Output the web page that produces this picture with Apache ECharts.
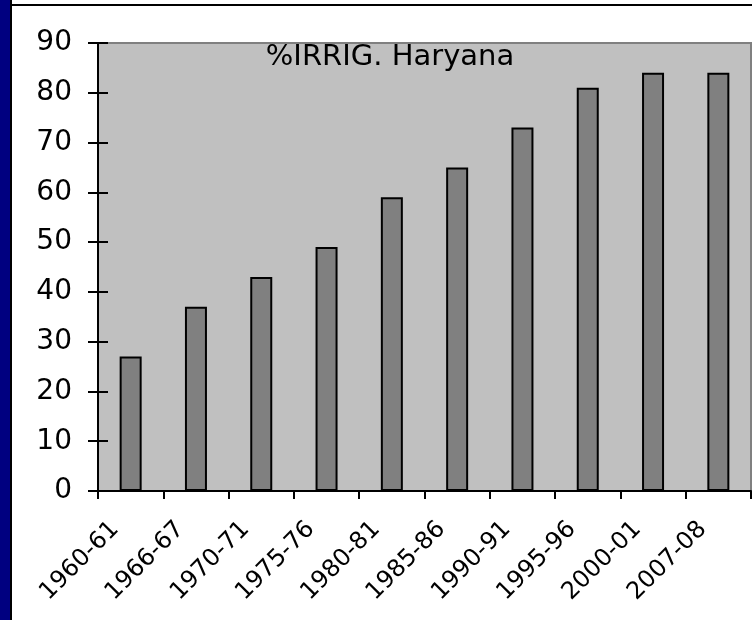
<!DOCTYPE html>
<html>
<head>
<meta charset="utf-8">
<script src="https://cdn.jsdelivr.net/npm/echarts@6/dist/echarts.min.js"></script>
<style>
  html, body { margin: 0; padding: 0; background: #ffffff; }
  #chart { width: 752px; height: 620px; }
</style>
</head>
<body>
<div id="chart"></div>
<script>
// Irrigated area share, Haryana (percent)
const periods = ['1960-61', '1966-67', '1970-71', '1975-76', '1980-81',
                 '1985-86', '1990-91', '1995-96', '2000-01', '2007-08'];
const irrigatedPct = [27, 37, 43, 49, 59, 65, 73, 81, 84, 84];
const yTicks = { min: 0, max: 90, step: 10 };
const chartTitle = '%IRRIG. Haryana';

const FONT = '"DejaVu Sans", Verdana, sans-serif';
const chart = echarts.init(document.getElementById('chart'), null, { renderer: 'canvas' });

chart.setOption({
  animation: false,
  backgroundColor: '#ffffff',
  title: {
    text: chartTitle,
    left: 385,
    textAlign: 'center',
    top: 38,
    textStyle: { fontFamily: FONT, fontSize: 29, fontWeight: 'normal', color: '#000' }
  },
  graphic: [
    { type: 'rect', shape: { x: 0, y: 0, width: 10, height: 620 }, style: { fill: '#000080' }, z: 10 },
    { type: 'line', shape: { x1: 11, y1: 0, x2: 11, y2: 620 }, style: { stroke: '#000', lineWidth: 2 }, z: 10 },
    { type: 'line', shape: { x1: 10, y1: 5, x2: 752, y2: 5 }, style: { stroke: '#000', lineWidth: 2 }, z: 10 }
  ],
  grid: {
    left: 98, right: 1, top: 43, bottom: 129,
    show: true,
    backgroundColor: '#c0c0c0',
    borderColor: '#808080',
    borderWidth: 2
  },
  xAxis: {
    type: 'category',
    data: periods,
    boundaryGap: true,
    axisLine: { lineStyle: { color: '#000', width: 2 } },
    axisTick: { show: true, length: 8, lineStyle: { color: '#000', width: 2 } },
    axisLabel: {
      rotate: 45,
      margin: 19,
      padding: [0, 22, 0, 0],
      fontFamily: FONT,
      fontSize: 24,
      color: '#000',
      interval: 0
    },
    splitLine: { show: false }
  },
  yAxis: [
    {
      type: 'value',
      min: yTicks.min, max: yTicks.max, interval: yTicks.step,
      axisLine: { show: true, lineStyle: { color: '#000', width: 2 } },
      axisTick: { show: true, length: 10, lineStyle: { color: '#000', width: 2 } },
      axisLabel: { margin: 26, fontFamily: FONT, fontSize: 28, color: '#000' },
      splitLine: { show: false }
    },
    {
      // inner half of the crossing tick marks
      type: 'value',
      position: 'left',
      min: yTicks.min, max: yTicks.max, interval: yTicks.step,
      axisLine: { show: false },
      axisTick: { show: true, inside: true, length: 10, lineStyle: { color: '#000', width: 2 } },
      axisLabel: { show: false },
      splitLine: { show: false }
    }
  ],
  series: [{
    type: 'bar',
    data: irrigatedPct,
    barWidth: 22,
    itemStyle: { color: '#808080', borderColor: '#000', borderWidth: 2 }
  }]
});
</script>
</body>
</html>
